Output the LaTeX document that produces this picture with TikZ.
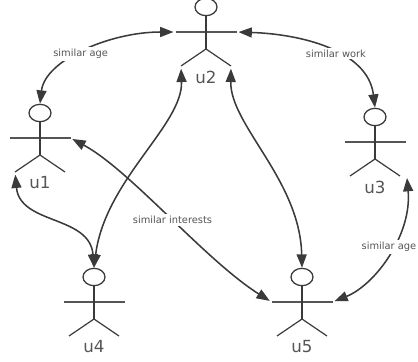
\documentclass[tikz,border=0pt]{standalone}
\usepackage{fontspec}
\setmainfont{DejaVu Sans}
\usetikzlibrary{arrows.meta, shapes.geometric}
\definecolor{inkdark}{HTML}{3A3A3A}
\definecolor{inkgrey}{HTML}{555555}
\tikzset{
	headnode/.style={ellipse, draw=inkdark, line width=0.95pt, fill=white, minimum width=16.5pt, minimum height=13pt, inner sep=0pt},
	limbline/.style={draw=inkdark, line width=0.9pt},
	armline/.style={draw=inkgrey, line width=1pt},
	usertext/.style={text=inkgrey, font=\fontsize{12.5}{13}\selectfont, inner sep=0pt},
	edgetext/.style={text=inkgrey, font=\fontsize{7.4}{8}\selectfont, fill=white, inner sep=1.5pt},
	mylink/.style={{Triangle[length=10pt,width=7.5pt]}-{Triangle[length=10pt,width=7.5pt]}, draw=inkdark, line width=1.15pt}
}
% one stick figure: name, head x, head y
\newcommand{\stickuser}[3]{
	\node[headnode] at (#2,#3) (#1) {};
	\coordinate (#1la) at (#2-30.5,#3+25);
	\coordinate (#1ra) at (#2+30.5,#3+25);
	\coordinate (#1hip) at (#2,#3+42);
	\coordinate (#1ll) at (#2-25,#3+59);
	\coordinate (#1rl) at (#2+25,#3+59);
	\node[usertext] at (#2,#3+70) (#1t) {#1};
	\draw[armline] (#1la) -- (#1ra);
	\draw[limbline] (#1.south) -- (#1hip);
	\draw[limbline] (#1ll) -- (#1hip) -- (#1rl);
}

\begin{document}
\begin{tikzpicture}[x=0.75pt,y=-0.75pt]
		\useasboundingbox (0,0) rectangle (418,361);
		\stickuser{u1}{40}{113}
		\stickuser{u2}{206}{7}
		\stickuser{u3}{375}{117}
		\stickuser{u4}{94}{277}
		\stickuser{u5}{302}{277}
		
		%Lines
		\draw[mylink, shorten >=1.5pt] (u1.north) .. controls (45,60) and (110,32) .. node[edgetext, pos=0.47] (age1) {similar age} (u2la);
		\draw[mylink, shorten <=1.5pt] (u2ra) .. controls (300,34) and (368,50) .. node[edgetext, pos=0.56] (work) {similar work} (u3.north);
		\draw[mylink, shorten <=1.5pt, shorten >=1.5pt] (u1ra) .. controls (130,170) and (205,260) .. node[edgetext, pos=0.52] (interests) {similar interests} (u5la);
		\draw[mylink, shorten <=2pt] (u2ll) .. controls (183,125) and (105,180) .. (u4.north);
		\draw[mylink, shorten <=2pt] (u1ll) .. controls (20,225) and (90,215) .. (u4.north);
		\draw[mylink, shorten <=2pt] (u2rl) .. controls (230,125) and (300,180) .. (u5.north);
		\coordinate (u3foot) at (407,178);
		\draw[mylink, shorten >=1.5pt] (u3foot) .. controls (412,235) and (375,285) .. node[edgetext, pos=0.44, xshift=-2.5pt] (age2) {similar age} (u5ra);
	\end{tikzpicture}
\end{document}
